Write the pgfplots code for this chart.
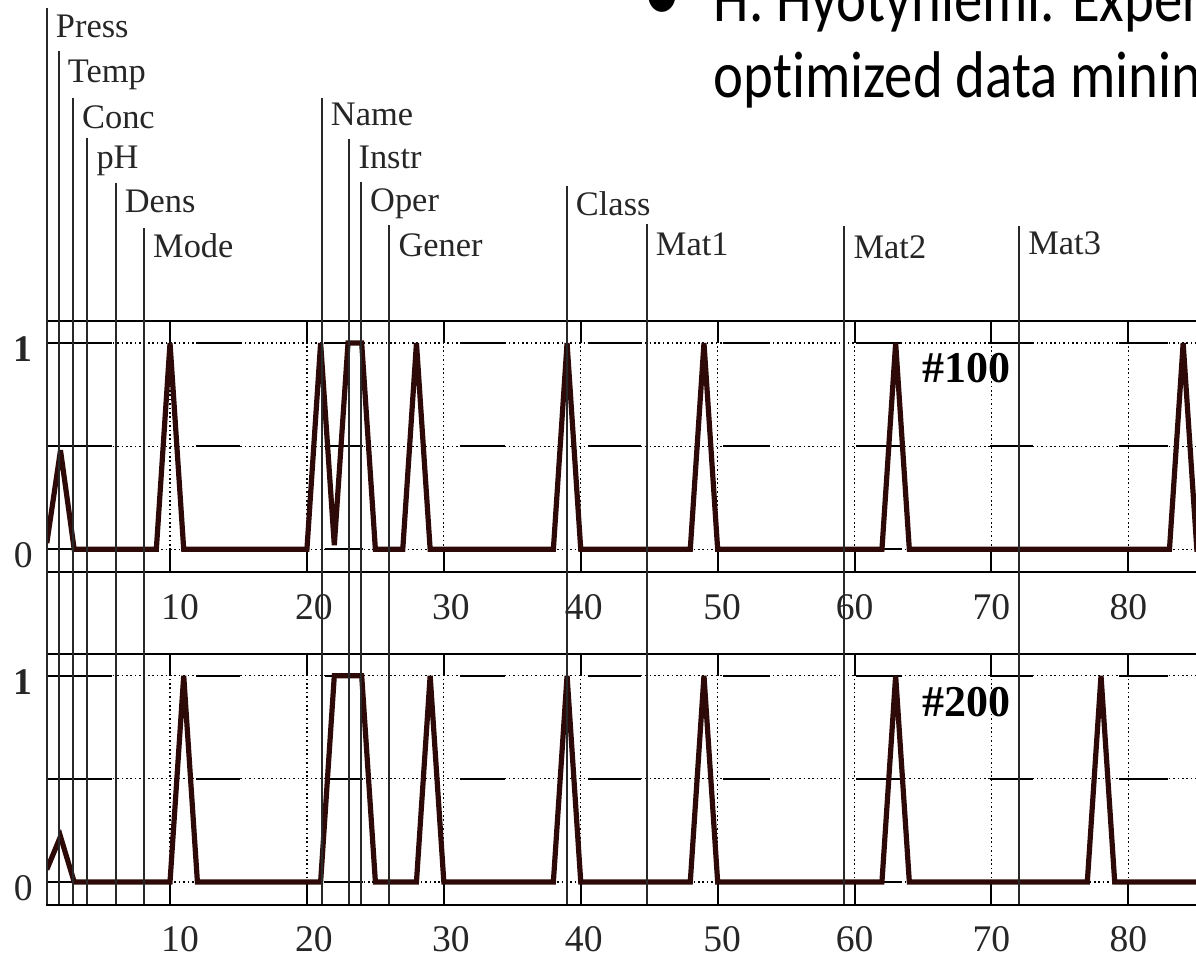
\documentclass[border=0pt]{standalone}
\usepackage{pgfplots}
\pgfplotsset{compat=1.18}
\usepackage{pgfplotstable}
\usepackage{fontspec}
\setmainfont{Liberation Serif}
\newfontfamily\slidefont[FakeStretch=0.86,Ligatures=NoCommon]{Carlito}
\definecolor{datacol}{RGB}{45,10,8}
\definecolor{linecol}{RGB}{40,40,40}

% solid pieces of the horizontal grid lines (y = 0, 0.5, 1)
\pgfplotstableread{
x c0 c5 c1
1 0 0.5 1
5.74 0 0.5 1
5.74 nan nan nan
11.9 0 0.5 1
15.1 0 0.5 1
15.1 nan nan nan
21.3 0 0.5 1
24.1 0 0.5 1
24.1 nan nan nan
31.2 0 0.5 1
34.5 0 0.5 1
34.5 nan nan nan
40.5 0 0.5 1
44.4 0 0.5 1
44.4 nan nan nan
50.4 0 0.5 1
53.8 0 0.5 1
53.8 nan nan nan
60.1 0 0.5 1
63.5 0 0.5 1
63.5 nan nan nan
69.9 0 0.5 1
73.0 0 0.5 1
73.0 nan nan nan
79.3 0 0.5 1
82.9 0 0.5 1
}\segtab

% run #100
\pgfplotstableread{
x y
1 0.03
2 0.48
3 0
9 0
10 1
11 0
20 0
21 1
22 0.02
23 1
24 1
25 0
27 0
28 1
29 0
38 0
39 1
40 0
48 0
49 1
50 0
62 0
63 1
64 0
83 0
84 1
85 0
86 0
}\runA

% run #200
\pgfplotstableread{
x y
1 0.06
2 0.22
3 0
10 0
11 1
12 0
21 0
22 1
24 1
25 0
28 0
29 1
30 0
38 0
39 1
40 0
48 0
49 1
50 0
62 0
63 1
64 0
77 0
78 1
79 0
86 0
}\runB

% variable boundary lines (x, top in px of picture)
\pgfplotstableread{
x y
1 8
1 904
1 nan
1.87 51
1.87 904
1.87 nan
2.91 98
2.91 904
2.91 nan
3.96 138
3.96 904
3.96 nan
6.03 183
6.03 904
6.03 nan
8.10 228
8.10 904
8.10 nan
21.08 98
21.08 904
21.08 nan
23.10 139
23.10 904
23.10 nan
23.95 182
23.95 904
23.95 nan
26.02 225
26.02 904
26.02 nan
38.98 186
38.98 904
38.98 nan
44.82 224
44.82 904
44.82 nan
59.26 226
59.26 904
59.26 nan
72.02 226
72.02 904
}\varlines

\pgfplotsset{panel/.style={
  scale only axis, width=290.93pt, height=62.75pt,
  anchor=north west,
  xmin=1, xmax=86, ymin=-0.11, ymax=1.107,
  xtick={10,20,...,80},
  xticklabels={\hspace{5pt}10,\hspace{3.5pt}20,\hspace{3.5pt}30,\hspace{1.5pt}40,\hspace{2.2pt}50,60,70,80},
  ytick={0,0.5,1}, yticklabels={0,,\textbf{1}},
  grid=major,
  major grid style={black, line width=0.3pt, dash pattern=on 0.4pt off 0.7pt},
  axis line style={black, line width=0.55pt},
  tick align=inside, major tick length=5.5pt,
  xtick style={black, line width=0.5pt},
  ytick style={draw=none},
  ticklabel style={font=\fontsize{9.4}{10}\selectfont, text=black!85},
  /pgf/number format/assume math mode=true,
  xticklabel style={yshift=-2pt},
  yticklabel style={yshift=-1.5pt},
  unbounded coords=jump,
}}

\begin{document}
\begin{tikzpicture}
\path[use as bounding box] (0pt,0pt) rectangle (299pt,-240.5pt);
\clip (0pt,0pt) rectangle (299pt,-240.5pt);

% slide text
\node[anchor=base, inner sep=0pt] at (165.5pt,-5.43pt) {\slidefont\fontsize{22}{24}\selectfont •};
\node[anchor=base west, inner sep=0pt] at (178.25pt,-5.43pt) {\slidefont\fontsize{16.5}{18}\selectfont H. Hyötyniemi. Experiences with};
\node[anchor=base west, inner sep=0pt] at (178.25pt,-24.4pt) {\slidefont\fontsize{16.5}{18}\selectfont optimized data mining};

% top panel (#100)
\begin{axis}[panel, at={(11.7pt,-80.25pt)}]
\addplot[black, line width=0.5pt] table[x=x, y=c1] {\segtab};
\addplot[black, line width=0.5pt] table[x=x, y=c5] {\segtab};
\addplot[black, line width=0.5pt] table[x=x, y=c0] {\segtab};
\addplot[datacol, line width=1.3pt, line join=miter, miter limit=3] table[x=x, y=y] {\runA};
\node[anchor=base west, inner sep=0pt, font=\fontsize{11}{12}\selectfont\bfseries] at (axis cs:64.9,0.81) {\#100};
\end{axis}

% bottom panel (#200)
\begin{axis}[panel, at={(11.7pt,-163.4pt)}]
\addplot[black, line width=0.5pt] table[x=x, y=c1] {\segtab};
\addplot[black, line width=0.5pt] table[x=x, y=c5] {\segtab};
\addplot[black, line width=0.5pt] table[x=x, y=c0] {\segtab};
\addplot[datacol, line width=1.3pt, line join=miter, miter limit=3] table[x=x, y=y] {\runB};
\node[anchor=base west, inner sep=0pt, font=\fontsize{11}{12}\selectfont\bfseries] at (axis cs:64.9,0.80) {\#200};
\end{axis}

% overlay: variable boundaries and names
\begin{axis}[scale only axis, width=290.93pt, height=226pt, anchor=north west,
  at={(11.7pt,0pt)}, xmin=1, xmax=86, ymin=0, ymax=904, y dir=reverse,
  hide axis, clip=false, unbounded coords=jump]
\addplot[linecol, line width=0.5pt] table[x=x, y=y] {\varlines};
\tikzset{lab/.style={anchor=base west, inner sep=0pt, xshift=2.1pt, text=black!85, font=\fontsize{8.6}{9}\selectfont}}
\node[lab] at (axis cs:1,37) {Press};
\node[lab] at (axis cs:1.87,82) {Temp};
\node[lab] at (axis cs:2.91,128) {Conc};
\node[lab] at (axis cs:3.96,168) {pH};
\node[lab] at (axis cs:6.03,212) {Dens};
\node[lab] at (axis cs:8.10,257) {Mode};
\node[lab] at (axis cs:21.08,125) {Name};
\node[lab] at (axis cs:23.10,168) {Instr};
\node[lab] at (axis cs:23.95,211.7) {Oper};
\node[lab] at (axis cs:26.02,256.7) {Gener};
\node[lab] at (axis cs:38.98,215) {Class};
\node[lab] at (axis cs:44.82,255) {Mat1};
\node[lab] at (axis cs:59.26,258) {Mat2};
\node[lab] at (axis cs:72.02,254) {Mat3};
\end{axis}
\end{tikzpicture}
\end{document}
